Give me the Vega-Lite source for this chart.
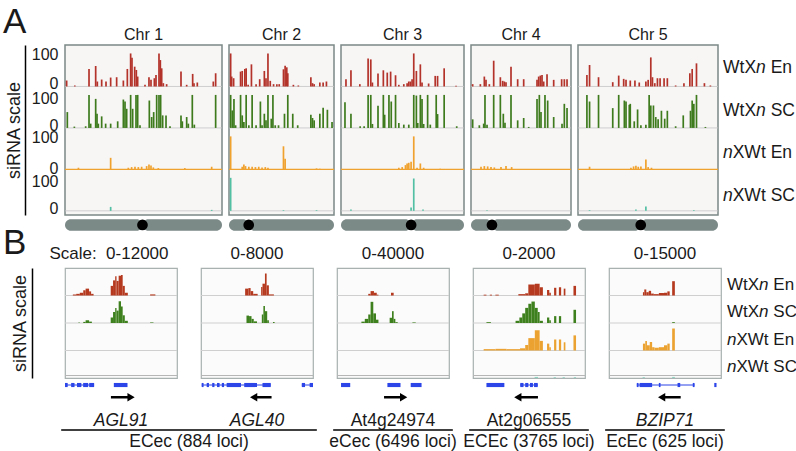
{
"$schema": "https://vega.github.io/schema/vega-lite/v6.json",
"padding": {"left": 3, "top": 5, "right": 0, "bottom": 0},
"config": {"font": "Liberation Sans", "view": {"stroke": null}, "title": {"fontSize": 16, "fontWeight": "normal", "color": "#1a1a1a", "offset": 2}, "text": {"color": "#1a1a1a"}},
"datasets": {
"tracks": [{"t":0,"k":"WtXn","s":"En"},{"t":1,"k":"WtXn","s":"SC"},{"t":2,"k":"nXWt","s":"En"},{"t":3,"k":"nXWt","s":"SC"}],
"chroms": [{"c":1,"len":30.4,"cen":15.0},{"c":2,"len":19.7,"cen":3.7},{"c":3,"len":23.5,"cen":13.4},{"c":4,"len":18.6,"cen":3.9},{"c":5,"len":27.0,"cen":12.1}],
"abars": [
{"c":1,"t":0,"x":[0.32,1.9,4.65,5.94,6.26,7.10,7.94,8.84,10.0,11.3,12.07,12.71,12.97,13.49,13.81,14.07,15.49,16.26,16.65,17.3,17.62,18.2,18.46,18.72,19.04,19.68,22.46,23.56,24.72,24.98,25.62,28.72,29.17],"v":[18,3,53,62,15,21,15,27,28,18,53,100,87,60,50,30,5,28,20,25,35,100,80,55,10,7,45,5,38,10,12,15,40]},
{"c":1,"t":1,"x":[0.45,1.81,4.0,4.65,4.97,5.94,6.2,6.45,7.1,7.87,8.84,10.2,11.3,11.62,11.94,12.71,13.1,13.75,14.07,14.52,16.33,16.78,17.17,17.75,18.2,18.52,18.91,19.56,20.33,22.46,22.72,23.56,23.88,24.65,25.04,29.17],"v":[48,4,5,100,13,88,43,13,35,13,13,20,86,80,58,100,58,100,100,8,83,33,48,100,100,100,38,38,5,38,20,33,13,100,10,100]},
{"c":1,"t":2,"x":[2.6,8.84,12.26,12.9,13.55,14.2,14.84,15.81,16.26,16.65,17.1,18.07,23.2,28.4],"v":[5,35,5,7,8,7,8,10,15,12,6,4,4,8]},
{"c":1,"t":3,"x":[8.84,28.4],"v":[12,3]},
{"c":2,"t":0,"x":[0.31,0.5,0.87,2.17,2.48,2.97,3.22,3.59,4.21,5.08,5.76,6.63,6.94,7.31,7.74,8.36,8.98,9.42,10.22,10.53,10.84,11.03,12.08,13.01,15.36,15.67,15.98,17.04,17.66,18.28],"v":[100,30,25,45,47,53,55,5,67,7,22,47,25,100,17,7,7,7,52,63,58,40,5,3,28,10,7,12,12,15]},
{"c":2,"t":1,"x":[0.31,0.62,0.93,1.24,2.17,2.48,2.79,3.22,3.72,4.34,5.08,5.89,6.2,6.63,6.94,7.31,7.93,8.24,8.67,9.29,10.41,11.03,11.96,12.89,15.36,15.67,15.98,17.04,17.66,18.46,19.33],"v":[100,53,88,8,100,38,18,100,8,100,8,80,8,43,23,100,28,100,8,8,43,100,43,8,40,30,23,43,61,55,18]},
{"c":2,"t":2,"x":[0.31,2.48,2.79,3.1,3.72,4.34,4.96,5.58,6.2,6.81,7.31,10.22,10.53,16.42,17.04],"v":[100,8,15,10,8,8,7,8,6,7,5,70,32,3,2]},
{"c":2,"t":3,"x":[0.31,10.22,16.42],"v":[100,2,2]},
{"c":3,"t":0,"x":[0.95,1.9,3.6,5.18,5.69,6.0,7.07,8.09,8.84,9.48,10.42,11.05,12.0,12.63,12.95,13.27,13.58,13.9,14.4,15.16,15.48,16.74,18.0,18.45,19.71,21.98],"v":[22,49,7,85,82,12,39,49,42,45,34,5,7,10,15,15,22,100,47,67,12,9,32,32,55,2]},
{"c":3,"t":1,"x":[0.76,1.9,3.66,4.42,5.18,5.69,6.0,7.07,8.09,8.34,9.16,9.6,10.42,11.05,12.0,12.95,13.9,14.4,14.66,15.16,15.48,15.79,16.55,17.06,18.19,18.45,19.71,22.11],"v":[78,43,5,5,100,100,12,67,100,40,100,80,100,15,10,10,100,98,15,100,88,12,100,10,100,42,100,5]},
{"c":3,"t":2,"x":[11.05,11.69,12.32,12.63,12.95,13.39,13.9,14.53,15.16,15.79,18.95],"v":[5,7,13,18,20,23,100,5,18,5,2]},
{"c":3,"t":3,"x":[1.9,13.39,13.9,15.67],"v":[4,10,98,4]},
{"c":4,"t":0,"x":[0.31,1.74,2.48,2.79,3.41,4.22,5.46,5.89,6.2,6.51,7.44,8.68,9.8,12.28,12.59,12.9,13.21,13.52,14.14,15.38,16.86,17.36,17.86],"v":[7,7,30,20,7,78,28,17,15,13,60,22,22,20,30,33,35,15,37,20,22,22,22]},
{"c":4,"t":1,"x":[0.31,1.55,2.36,2.6,2.98,4.22,5.46,6.01,6.32,7.44,8.68,9.8,10.73,12.28,12.71,13.02,13.76,14.26,15.38,16.93,17.36,17.86],"v":[26,8,13,100,10,100,100,43,16,100,23,30,3,88,100,48,100,83,33,13,73,60]},
{"c":4,"t":2,"x":[1.86,2.48,3.1,3.72,4.34,5.58,6.51,7.56],"v":[8,10,9,7,6,7,10,7]},
{"c":4,"t":3,"x":[2.98],"v":[2]},
{"c":5,"t":0,"x":[1.72,2.23,3.96,6.7,7.85,8.81,9.26,10.08,10.98,11.81,13.09,13.53,14.04,14.36,14.81,15.32,15.83,16.6,17.23,18.83,20.43,21.57,22.02,22.85,24.38,25.53],"v":[35,65,28,13,33,23,20,18,18,12,15,20,88,28,10,25,25,25,25,3,10,40,53,70,10,3]},
{"c":5,"t":1,"x":[1.72,2.23,3.96,6.7,7.85,8.94,9.26,9.89,10.08,10.85,11.49,12.13,13.09,13.72,14.04,14.55,15.0,15.45,16.09,16.72,17.23,18.83,20.3,21.7,22.02,22.34,22.85,24.57],"v":[100,80,100,60,100,83,80,70,73,20,56,8,10,100,68,68,33,26,52,28,52,5,38,52,83,73,100,3]},
{"c":5,"t":2,"x":[2.23,10.21,10.72,11.17,11.62,12.13,13.09,13.53,14.17],"v":[8,5,9,11,8,9,30,7,5]},
{"c":5,"t":3,"x":[2.23,11.17,13.09,22.34],"v":[2,4,13,2]}
],
"bhist": [
{"g":1,"t":0,"x0":[7,10,13.2,16.3,18.4,21.5,23.3,40.8,42.9,44.8,46,47.9,50,51.5,53.4,76],"x1":[10,13.2,16.3,18.4,21.5,23.3,25.5,42.9,44.8,46,47.9,50,51.5,53.4,56.1,80.7],"p":[4,6,10,19,25,15,6,35,55,70,53,72,75,35,10,4]},
{"g":1,"t":1,"x0":[12,16.3,18.4,21.5,40.8,42.9,44.8,46,47.9,50,51.5,53.4,76],"x1":[13.2,18.4,21.5,24,42.9,44.8,46,47.9,50,51.5,53.4,56.1,79],"p":[2,4,10,5,20,40,55,45,79,60,28,8,2]},
{"g":2,"t":0,"x0":[39.4,42.3,44.3,46.6,53.7,54.9,57.1,58.6,60.6],"x1":[42.3,44.3,46.6,50.6,54.9,57.1,58.6,60.6,65.1],"p":[25,27,16,6,31,43,80,37,4]},
{"g":2,"t":1,"x0":[40.6,42.9,45.1,47.1,54.3,55.7,57.1,59.1,64.3],"x1":[42.9,45.1,47.1,50,55.7,57.1,59.1,60.6,65.7],"p":[27,25,15,6,31,62,43,10,4]},
{"g":3,"t":0,"x0":[27.9,30,33,35.5,48.2],"x1":[30,33,35.5,37,50.6],"p":[6,16,10,3,10]},
{"g":3,"t":1,"x0":[21.8,24.8,27.9,30,32.4,34.8,47,49.1,50.6,52.1,67.3],"x1":[24.8,27.9,30,32.4,34.8,37,49.1,50.6,52.1,54.2,70.3],"p":[5,15,31,77,35,12,19,43,15,3,2]},
{"g":4,"t":0,"x0":[9.5,15,20,40.5,46.6,49.4,55.2,59.5,66.1,68.1,72.4,76.7,81,89.7],"x1":[12,17,23,46.6,49.4,55.2,59.5,62.4,68.1,69.5,74.4,78.7,82.5,92],"p":[3,3,3,5,8,40,43,30,20,10,28,30,25,35]},
{"g":4,"t":1,"x0":[12,38,41.4,44,46.6,49.4,52.2,55.2,57.8,59.5,66.1,68.1,72.4,76.7,89.7],"x1":[16,41.4,44,46.6,49.4,52.2,55.2,57.8,59.5,62.4,68.1,69.5,74.4,78.7,92],"p":[3,8,20,35,55,70,78,55,40,8,20,10,25,25,48]},
{"g":4,"t":2,"x0":[9.5,20,30,42,46.6,49.4,55.2,59.5,66.1,68.1,72.4,76.7,81,89.7],"x1":[20,30,42,46.6,49.4,55.2,59.5,62.4,68.1,69.5,74.4,78.7,82.5,92],"p":[5,6,5,8,20,45,74,35,25,12,40,40,30,55]},
{"g":4,"t":3,"x0":[55,72,80,90],"x1":[58,74,82,92],"p":[4,3,3,3]},
{"g":5,"t":0,"x0":[30.3,31.5,33.3,35.5,37.6,40,44.5,49.1,52.1,56.4],"x1":[31.5,33.3,35.5,37.6,40,44.5,49.1,52.1,54.2,58.8],"p":[12,22,12,17,7,5,9,10,15,52]},
{"g":5,"t":1,"x0":[56.4],"x1":[58.8],"p":[3]},
{"g":5,"t":2,"x0":[30.3,32.4,33.9,36.4,38.5,40.6,44.5,49.1,52.1,56.4],"x1":[32.4,33.9,36.4,38.5,40.6,44.5,49.1,52.1,54.2,58.8],"p":[25,35,19,31,12,10,12,19,25,80]},
{"g":5,"t":3,"x0":[30,56.4],"x1":[32,58.8],"p":[3,4]}
],
"bexon": [
{"g":1,"s":[0,5.5,10.7,16.2,21.6,43.6],"e":[2.4,8.5,14.6,20.7,26,55.8]},
{"g":2,"s":[0.6,5.1,10,14.3,18.6,22.9,38.6,54.9,90,97],"e":[2.3,7.1,12,16.6,20.6,35.7,50,62.3,92.9,100]},
{"g":3,"s":[3.6,45,65.8],"e":[11.8,56.7,75.5]},
{"g":4,"s":[12,42.2,46.6,50.9,54.5],"e":[28,45.1,49.4,53.5,57.8]},
{"g":5,"s":[24.8,27.3,44.5,61.2,74.8,94],"e":[26.4,38.5,46,63.6,76.4,96]}
],
"bintron": [
{"g":1,"s":[0.9],"e":[26]},
{"g":2,"s":[0.6,90],"e":[62.3,100]},
{"g":4,"s":[42],"e":[58]},
{"g":5,"s":[24.8],"e":[76.4]}
],
"barrow": [{"g":1,"s":41,"e":59,"d":"r"},{"g":2,"s":47,"e":63,"d":"l"},{"g":3,"s":42,"e":59.5,"d":"r"},{"g":4,"s":40,"e":58,"d":"l"},{"g":5,"s":47,"e":64,"d":"l"}],
"genes": [{"g":1,"n":"AGL91"},{"g":2,"n":"AGL40"},{"g":3,"n":"At4g24974"},{"g":4,"n":"At2g06555"},{"g":5,"n":"BZIP71"}],
"groups": [{"n":"ECec (884 loci)","a":1,"b":2},{"n":"eCec (6496 loci)","a":3,"b":3},{"n":"ECEc (3765 loci)","a":4,"b":4},{"n":"EcEc (625 loci)","a":5,"b":5}]
},
"resolve": {"scale": {"color": "independent"}},
"spacing": -6,
"bounds": "full",
"vconcat": [
{
"title": {"text": "A", "anchor": "start", "frame": "group", "fontSize": 35, "fontWeight": "normal", "dx": -62, "dy": 22, "offset": 8},
"spacing": 7,
"bounds": "flush",
"hconcat": [
{"width": 157, "height": 170, "title": {"text": "Chr 1"},
"view": {"fill": "#f8f5f5", "stroke": "#7b8886", "strokeWidth": 1.5},
"layer": [
{"data": {"name": "tracks"}, "transform": [{"filter": "datum.t != 2"}, {"calculate": "3 - datum.t", "as": "b"}],
"mark": {"type": "rule", "color": "#c4c4c4", "strokeWidth": 0.8},
"encoding": {"y": {"field": "b", "type": "quantitative", "scale": {"domain": [-0.1, 4]},
"axis": {"title": "siRNA scale", "offset": 40, "domainColor": "black", "domainWidth": 1.5, "ticks": false, "tickSize": 0, "grid": false, "values": [0.045, 0.72, 1.03, 1.76, 2.05, 2.7, 3.06, 3.78], "labelExpr": "datum.value % 1 > 0.5 ? '100' : '0'", "labelAlign": "right", "labelPadding": -33, "labelFontSize": 16, "labelColor": "#1a1a1a", "labelOverlap": false, "labelFlush": false, "titleFontSize": 18, "titleFontWeight": "normal", "titleColor": "#1a1a1a", "titlePadding": 2}}}},
{"data": {"name": "tracks"}, "transform": [{"filter": "datum.t == 2"}, {"calculate": "3 - datum.t", "as": "b"}],
"mark": {"type": "rule", "color": "#f0a22e", "strokeWidth": 1.3},
"encoding": {"y": {"field": "b", "type": "quantitative", "scale": {"domain": [-0.1, 4]},
"axis": {"title": "siRNA scale", "offset": 40, "domainColor": "black", "domainWidth": 1.5, "ticks": false, "tickSize": 0, "grid": false, "values": [0.045, 0.72, 1.03, 1.76, 2.05, 2.7, 3.06, 3.78], "labelExpr": "datum.value % 1 > 0.5 ? '100' : '0'", "labelAlign": "right", "labelPadding": -33, "labelFontSize": 16, "labelColor": "#1a1a1a", "labelOverlap": false, "labelFlush": false, "titleFontSize": 18, "titleFontWeight": "normal", "titleColor": "#1a1a1a", "titlePadding": 2}}}},
{"data": {"name": "abars"}, "transform": [{"filter": "datum.c == 1"}, {"flatten": ["x", "v"]}, {"calculate": "3 - datum.t", "as": "b"}, {"calculate": "3 - datum.t + datum.v / 125.6", "as": "top"}],
"mark": {"type": "rule", "strokeWidth": 1.7},
"encoding": {"x": {"field": "x", "type": "quantitative", "scale": {"domain": [0, 30.4]}, "axis": null},
"y": {"field": "b", "type": "quantitative", "scale": {"domain": [-0.1, 4]},
"axis": {"title": "siRNA scale", "offset": 40, "domainColor": "black", "domainWidth": 1.5, "ticks": false, "tickSize": 0, "grid": false, "values": [0.045, 0.72, 1.03, 1.76, 2.05, 2.7, 3.06, 3.78], "labelExpr": "datum.value % 1 > 0.5 ? '100' : '0'", "labelAlign": "right", "labelPadding": -33, "labelFontSize": 16, "labelColor": "#1a1a1a", "labelOverlap": false, "labelFlush": false, "titleFontSize": 18, "titleFontWeight": "normal", "titleColor": "#1a1a1a", "titlePadding": 2}}, "y2": {"field": "top"},
"color": {"field": "t", "type": "nominal", "scale": {"domain": [0,1,2,3], "range": ["#b3332a","#3d7b1d","#f0a22e","#52c0a2"]}, "legend": null}}},
{"data": {"name": "chroms"}, "transform": [{"filter": "datum.c == 1"}, {"calculate": "0", "as": "z"}, {"calculate": "-0.2", "as": "ya"}, {"calculate": "-0.48", "as": "yb"}],
"mark": {"type": "rect", "color": "#7b8987", "cornerRadius": 6},
"encoding": {"x": {"field": "z", "type": "quantitative", "scale": {"domain": [0, 30.4]}, "axis": null}, "x2": {"field": "cen"},
"y": {"field": "ya", "type": "quantitative", "scale": {"domain": [-0.1, 4]},
"axis": {"title": "siRNA scale", "offset": 40, "domainColor": "black", "domainWidth": 1.5, "ticks": false, "tickSize": 0, "grid": false, "values": [0.045, 0.72, 1.03, 1.76, 2.05, 2.7, 3.06, 3.78], "labelExpr": "datum.value % 1 > 0.5 ? '100' : '0'", "labelAlign": "right", "labelPadding": -33, "labelFontSize": 16, "labelColor": "#1a1a1a", "labelOverlap": false, "labelFlush": false, "titleFontSize": 18, "titleFontWeight": "normal", "titleColor": "#1a1a1a", "titlePadding": 2}}, "y2": {"field": "yb"}}},
{"data": {"name": "chroms"}, "transform": [{"filter": "datum.c == 1"}, {"calculate": "-0.2", "as": "ya"}, {"calculate": "-0.48", "as": "yb"}],
"mark": {"type": "rect", "color": "#7b8987", "cornerRadius": 6},
"encoding": {"x": {"field": "cen", "type": "quantitative", "scale": {"domain": [0, 30.4]}, "axis": null}, "x2": {"field": "len"},
"y": {"field": "ya", "type": "quantitative", "scale": {"domain": [-0.1, 4]},
"axis": {"title": "siRNA scale", "offset": 40, "domainColor": "black", "domainWidth": 1.5, "ticks": false, "tickSize": 0, "grid": false, "values": [0.045, 0.72, 1.03, 1.76, 2.05, 2.7, 3.06, 3.78], "labelExpr": "datum.value % 1 > 0.5 ? '100' : '0'", "labelAlign": "right", "labelPadding": -33, "labelFontSize": 16, "labelColor": "#1a1a1a", "labelOverlap": false, "labelFlush": false, "titleFontSize": 18, "titleFontWeight": "normal", "titleColor": "#1a1a1a", "titlePadding": 2}}, "y2": {"field": "yb"}}},
{"data": {"name": "chroms"}, "transform": [{"filter": "datum.c == 1"}, {"calculate": "-0.34", "as": "yc"}],
"mark": {"type": "point", "filled": true, "color": "black", "size": 115, "opacity": 1},
"encoding": {"x": {"field": "cen", "type": "quantitative", "scale": {"domain": [0, 30.4]}, "axis": null},
"y": {"field": "yc", "type": "quantitative", "scale": {"domain": [-0.1, 4]},
"axis": {"title": "siRNA scale", "offset": 40, "domainColor": "black", "domainWidth": 1.5, "ticks": false, "tickSize": 0, "grid": false, "values": [0.045, 0.72, 1.03, 1.76, 2.05, 2.7, 3.06, 3.78], "labelExpr": "datum.value % 1 > 0.5 ? '100' : '0'", "labelAlign": "right", "labelPadding": -33, "labelFontSize": 16, "labelColor": "#1a1a1a", "labelOverlap": false, "labelFlush": false, "titleFontSize": 18, "titleFontWeight": "normal", "titleColor": "#1a1a1a", "titlePadding": 2}}}}
]},
{"width": 105, "height": 170, "title": {"text": "Chr 2"},
"view": {"fill": "#f8f5f5", "stroke": "#7b8886", "strokeWidth": 1.5},
"layer": [
{"data": {"name": "tracks"}, "transform": [{"filter": "datum.t != 2"}, {"calculate": "3 - datum.t", "as": "b"}],
"mark": {"type": "rule", "color": "#c4c4c4", "strokeWidth": 0.8},
"encoding": {"y": {"field": "b", "type": "quantitative", "scale": {"domain": [-0.1, 4]}, "axis": null}}},
{"data": {"name": "tracks"}, "transform": [{"filter": "datum.t == 2"}, {"calculate": "3 - datum.t", "as": "b"}],
"mark": {"type": "rule", "color": "#f0a22e", "strokeWidth": 1.3},
"encoding": {"y": {"field": "b", "type": "quantitative", "scale": {"domain": [-0.1, 4]}, "axis": null}}},
{"data": {"name": "abars"}, "transform": [{"filter": "datum.c == 2"}, {"flatten": ["x", "v"]}, {"calculate": "3 - datum.t", "as": "b"}, {"calculate": "3 - datum.t + datum.v / 125.6", "as": "top"}],
"mark": {"type": "rule", "strokeWidth": 1.7},
"encoding": {"x": {"field": "x", "type": "quantitative", "scale": {"domain": [0, 19.7]}, "axis": null},
"y": {"field": "b", "type": "quantitative", "scale": {"domain": [-0.1, 4]}, "axis": null}, "y2": {"field": "top"},
"color": {"field": "t", "type": "nominal", "scale": {"domain": [0,1,2,3], "range": ["#b3332a","#3d7b1d","#f0a22e","#52c0a2"]}, "legend": null}}},
{"data": {"name": "chroms"}, "transform": [{"filter": "datum.c == 2"}, {"calculate": "0", "as": "z"}, {"calculate": "-0.2", "as": "ya"}, {"calculate": "-0.48", "as": "yb"}],
"mark": {"type": "rect", "color": "#7b8987", "cornerRadius": 6},
"encoding": {"x": {"field": "z", "type": "quantitative", "scale": {"domain": [0, 19.7]}, "axis": null}, "x2": {"field": "cen"},
"y": {"field": "ya", "type": "quantitative", "scale": {"domain": [-0.1, 4]}, "axis": null}, "y2": {"field": "yb"}}},
{"data": {"name": "chroms"}, "transform": [{"filter": "datum.c == 2"}, {"calculate": "-0.2", "as": "ya"}, {"calculate": "-0.48", "as": "yb"}],
"mark": {"type": "rect", "color": "#7b8987", "cornerRadius": 6},
"encoding": {"x": {"field": "cen", "type": "quantitative", "scale": {"domain": [0, 19.7]}, "axis": null}, "x2": {"field": "len"},
"y": {"field": "ya", "type": "quantitative", "scale": {"domain": [-0.1, 4]}, "axis": null}, "y2": {"field": "yb"}}},
{"data": {"name": "chroms"}, "transform": [{"filter": "datum.c == 2"}, {"calculate": "-0.34", "as": "yc"}],
"mark": {"type": "point", "filled": true, "color": "black", "size": 115, "opacity": 1},
"encoding": {"x": {"field": "cen", "type": "quantitative", "scale": {"domain": [0, 19.7]}, "axis": null},
"y": {"field": "yc", "type": "quantitative", "scale": {"domain": [-0.1, 4]}, "axis": null}}}
]},
{"width": 123, "height": 170, "title": {"text": "Chr 3"},
"view": {"fill": "#f8f5f5", "stroke": "#7b8886", "strokeWidth": 1.5},
"layer": [
{"data": {"name": "tracks"}, "transform": [{"filter": "datum.t != 2"}, {"calculate": "3 - datum.t", "as": "b"}],
"mark": {"type": "rule", "color": "#c4c4c4", "strokeWidth": 0.8},
"encoding": {"y": {"field": "b", "type": "quantitative", "scale": {"domain": [-0.1, 4]}, "axis": null}}},
{"data": {"name": "tracks"}, "transform": [{"filter": "datum.t == 2"}, {"calculate": "3 - datum.t", "as": "b"}],
"mark": {"type": "rule", "color": "#f0a22e", "strokeWidth": 1.3},
"encoding": {"y": {"field": "b", "type": "quantitative", "scale": {"domain": [-0.1, 4]}, "axis": null}}},
{"data": {"name": "abars"}, "transform": [{"filter": "datum.c == 3"}, {"flatten": ["x", "v"]}, {"calculate": "3 - datum.t", "as": "b"}, {"calculate": "3 - datum.t + datum.v / 125.6", "as": "top"}],
"mark": {"type": "rule", "strokeWidth": 1.7},
"encoding": {"x": {"field": "x", "type": "quantitative", "scale": {"domain": [0, 23.5]}, "axis": null},
"y": {"field": "b", "type": "quantitative", "scale": {"domain": [-0.1, 4]}, "axis": null}, "y2": {"field": "top"},
"color": {"field": "t", "type": "nominal", "scale": {"domain": [0,1,2,3], "range": ["#b3332a","#3d7b1d","#f0a22e","#52c0a2"]}, "legend": null}}},
{"data": {"name": "chroms"}, "transform": [{"filter": "datum.c == 3"}, {"calculate": "0", "as": "z"}, {"calculate": "-0.2", "as": "ya"}, {"calculate": "-0.48", "as": "yb"}],
"mark": {"type": "rect", "color": "#7b8987", "cornerRadius": 6},
"encoding": {"x": {"field": "z", "type": "quantitative", "scale": {"domain": [0, 23.5]}, "axis": null}, "x2": {"field": "cen"},
"y": {"field": "ya", "type": "quantitative", "scale": {"domain": [-0.1, 4]}, "axis": null}, "y2": {"field": "yb"}}},
{"data": {"name": "chroms"}, "transform": [{"filter": "datum.c == 3"}, {"calculate": "-0.2", "as": "ya"}, {"calculate": "-0.48", "as": "yb"}],
"mark": {"type": "rect", "color": "#7b8987", "cornerRadius": 6},
"encoding": {"x": {"field": "cen", "type": "quantitative", "scale": {"domain": [0, 23.5]}, "axis": null}, "x2": {"field": "len"},
"y": {"field": "ya", "type": "quantitative", "scale": {"domain": [-0.1, 4]}, "axis": null}, "y2": {"field": "yb"}}},
{"data": {"name": "chroms"}, "transform": [{"filter": "datum.c == 3"}, {"calculate": "-0.34", "as": "yc"}],
"mark": {"type": "point", "filled": true, "color": "black", "size": 115, "opacity": 1},
"encoding": {"x": {"field": "cen", "type": "quantitative", "scale": {"domain": [0, 23.5]}, "axis": null},
"y": {"field": "yc", "type": "quantitative", "scale": {"domain": [-0.1, 4]}, "axis": null}}}
]},
{"width": 100, "height": 170, "title": {"text": "Chr 4"},
"view": {"fill": "#f8f5f5", "stroke": "#7b8886", "strokeWidth": 1.5},
"layer": [
{"data": {"name": "tracks"}, "transform": [{"filter": "datum.t != 2"}, {"calculate": "3 - datum.t", "as": "b"}],
"mark": {"type": "rule", "color": "#c4c4c4", "strokeWidth": 0.8},
"encoding": {"y": {"field": "b", "type": "quantitative", "scale": {"domain": [-0.1, 4]}, "axis": null}}},
{"data": {"name": "tracks"}, "transform": [{"filter": "datum.t == 2"}, {"calculate": "3 - datum.t", "as": "b"}],
"mark": {"type": "rule", "color": "#f0a22e", "strokeWidth": 1.3},
"encoding": {"y": {"field": "b", "type": "quantitative", "scale": {"domain": [-0.1, 4]}, "axis": null}}},
{"data": {"name": "abars"}, "transform": [{"filter": "datum.c == 4"}, {"flatten": ["x", "v"]}, {"calculate": "3 - datum.t", "as": "b"}, {"calculate": "3 - datum.t + datum.v / 125.6", "as": "top"}],
"mark": {"type": "rule", "strokeWidth": 1.7},
"encoding": {"x": {"field": "x", "type": "quantitative", "scale": {"domain": [0, 18.6]}, "axis": null},
"y": {"field": "b", "type": "quantitative", "scale": {"domain": [-0.1, 4]}, "axis": null}, "y2": {"field": "top"},
"color": {"field": "t", "type": "nominal", "scale": {"domain": [0,1,2,3], "range": ["#b3332a","#3d7b1d","#f0a22e","#52c0a2"]}, "legend": null}}},
{"data": {"name": "chroms"}, "transform": [{"filter": "datum.c == 4"}, {"calculate": "0", "as": "z"}, {"calculate": "-0.2", "as": "ya"}, {"calculate": "-0.48", "as": "yb"}],
"mark": {"type": "rect", "color": "#7b8987", "cornerRadius": 6},
"encoding": {"x": {"field": "z", "type": "quantitative", "scale": {"domain": [0, 18.6]}, "axis": null}, "x2": {"field": "cen"},
"y": {"field": "ya", "type": "quantitative", "scale": {"domain": [-0.1, 4]}, "axis": null}, "y2": {"field": "yb"}}},
{"data": {"name": "chroms"}, "transform": [{"filter": "datum.c == 4"}, {"calculate": "-0.2", "as": "ya"}, {"calculate": "-0.48", "as": "yb"}],
"mark": {"type": "rect", "color": "#7b8987", "cornerRadius": 6},
"encoding": {"x": {"field": "cen", "type": "quantitative", "scale": {"domain": [0, 18.6]}, "axis": null}, "x2": {"field": "len"},
"y": {"field": "ya", "type": "quantitative", "scale": {"domain": [-0.1, 4]}, "axis": null}, "y2": {"field": "yb"}}},
{"data": {"name": "chroms"}, "transform": [{"filter": "datum.c == 4"}, {"calculate": "-0.34", "as": "yc"}],
"mark": {"type": "point", "filled": true, "color": "black", "size": 115, "opacity": 1},
"encoding": {"x": {"field": "cen", "type": "quantitative", "scale": {"domain": [0, 18.6]}, "axis": null},
"y": {"field": "yc", "type": "quantitative", "scale": {"domain": [-0.1, 4]}, "axis": null}}}
]},
{"width": 140, "height": 170, "title": {"text": "Chr 5"},
"view": {"fill": "#f8f5f5", "stroke": "#7b8886", "strokeWidth": 1.5},
"layer": [
{"data": {"name": "tracks"}, "transform": [{"filter": "datum.t != 2"}, {"calculate": "3 - datum.t", "as": "b"}],
"mark": {"type": "rule", "color": "#c4c4c4", "strokeWidth": 0.8},
"encoding": {"y": {"field": "b", "type": "quantitative", "scale": {"domain": [-0.1, 4]}, "axis": null}}},
{"data": {"name": "tracks"}, "transform": [{"filter": "datum.t == 2"}, {"calculate": "3 - datum.t", "as": "b"}],
"mark": {"type": "rule", "color": "#f0a22e", "strokeWidth": 1.3},
"encoding": {"y": {"field": "b", "type": "quantitative", "scale": {"domain": [-0.1, 4]}, "axis": null}}},
{"data": {"name": "abars"}, "transform": [{"filter": "datum.c == 5"}, {"flatten": ["x", "v"]}, {"calculate": "3 - datum.t", "as": "b"}, {"calculate": "3 - datum.t + datum.v / 125.6", "as": "top"}],
"mark": {"type": "rule", "strokeWidth": 1.7},
"encoding": {"x": {"field": "x", "type": "quantitative", "scale": {"domain": [0, 27.0]}, "axis": null},
"y": {"field": "b", "type": "quantitative", "scale": {"domain": [-0.1, 4]}, "axis": null}, "y2": {"field": "top"},
"color": {"field": "t", "type": "nominal", "scale": {"domain": [0,1,2,3], "range": ["#b3332a","#3d7b1d","#f0a22e","#52c0a2"]}, "legend": null}}},
{"data": {"name": "chroms"}, "transform": [{"filter": "datum.c == 5"}, {"calculate": "0", "as": "z"}, {"calculate": "-0.2", "as": "ya"}, {"calculate": "-0.48", "as": "yb"}],
"mark": {"type": "rect", "color": "#7b8987", "cornerRadius": 6},
"encoding": {"x": {"field": "z", "type": "quantitative", "scale": {"domain": [0, 27.0]}, "axis": null}, "x2": {"field": "cen"},
"y": {"field": "ya", "type": "quantitative", "scale": {"domain": [-0.1, 4]}, "axis": null}, "y2": {"field": "yb"}}},
{"data": {"name": "chroms"}, "transform": [{"filter": "datum.c == 5"}, {"calculate": "-0.2", "as": "ya"}, {"calculate": "-0.48", "as": "yb"}],
"mark": {"type": "rect", "color": "#7b8987", "cornerRadius": 6},
"encoding": {"x": {"field": "cen", "type": "quantitative", "scale": {"domain": [0, 27.0]}, "axis": null}, "x2": {"field": "len"},
"y": {"field": "ya", "type": "quantitative", "scale": {"domain": [-0.1, 4]}, "axis": null}, "y2": {"field": "yb"}}},
{"data": {"name": "chroms"}, "transform": [{"filter": "datum.c == 5"}, {"calculate": "-0.34", "as": "yc"}],
"mark": {"type": "point", "filled": true, "color": "black", "size": 115, "opacity": 1},
"encoding": {"x": {"field": "cen", "type": "quantitative", "scale": {"domain": [0, 27.0]}, "axis": null},
"y": {"field": "yc", "type": "quantitative", "scale": {"domain": [-0.1, 4]}, "axis": null}}}
]},
{"width": 70, "height": 170,
"data": {"name": "tracks"},
"layer": [
{"transform": [{"filter": "datum.k == 'WtXn'"}], "mark": {"type": "text", "align": "left", "fontSize": 17.5, "dx": -2, "dy": 2, "text": "WtX"},
"encoding": {"x": {"datum": 0, "type": "quantitative", "scale": {"domain": [0, 1]}, "axis": null}, "y": {"field": "t", "type": "ordinal", "axis": null}}},
{"transform": [{"filter": "datum.k == 'WtXn'"}], "mark": {"type": "text", "align": "left", "fontSize": 17.5, "fontStyle": "italic", "dx": 31.1, "dy": 2, "text": "n"},
"encoding": {"x": {"datum": 0, "type": "quantitative", "scale": {"domain": [0, 1]}, "axis": null}, "y": {"field": "t", "type": "ordinal", "axis": null}}},
{"transform": [{"filter": "datum.k == 'nXWt'"}], "mark": {"type": "text", "align": "left", "fontSize": 17.5, "fontStyle": "italic", "dx": -2, "dy": 2, "text": "n"},
"encoding": {"x": {"datum": 0, "type": "quantitative", "scale": {"domain": [0, 1]}, "axis": null}, "y": {"field": "t", "type": "ordinal", "axis": null}}},
{"transform": [{"filter": "datum.k == 'nXWt'"}], "mark": {"type": "text", "align": "left", "fontSize": 17.5, "dx": 7.7, "dy": 2, "text": "XWt"},
"encoding": {"x": {"datum": 0, "type": "quantitative", "scale": {"domain": [0, 1]}, "axis": null}, "y": {"field": "t", "type": "ordinal", "axis": null}}},
{"mark": {"type": "text", "align": "left", "fontSize": 17.5, "dx": 45.7, "dy": 2},
"encoding": {"x": {"datum": 0, "type": "quantitative", "scale": {"domain": [0, 1]}, "axis": null}, "y": {"field": "t", "type": "ordinal", "axis": null}, "text": {"field": "s"}}}
]}
]
},
{
"title": {"text": "B", "anchor": "start", "frame": "group", "fontSize": 35, "fontWeight": "normal", "dx": -62, "dy": 17, "offset": 0},
"spacing": 9,
"bounds": "full",
"vconcat": [
{"spacing": 24, "bounds": "flush",
"hconcat": [
{"width": 112, "height": 110, "title": {"text": "Scale:\u00a0 0-12000", "anchor": "end", "dx": -9, "fontSize": 17, "offset": 5},
"view": {"fill": "#fbfbfb", "stroke": "#a8b0b0", "strokeWidth": 1.2},
"layer": [
{"data": {"name": "tracks"}, "transform": [{"filter": "datum.t > 0"}], "mark": {"type": "rule", "color": "#cfcfcf", "strokeWidth": 1},
"encoding": {"y": {"field": "t", "type": "quantitative", "scale": {"domain": [0, 4]}, "axis": {"title": "siRNA scale", "offset": 33, "domainColor": "black", "domainWidth": 1.5, "ticks": false, "labels": false, "grid": false, "titleFontSize": 18, "titleFontWeight": "normal", "titleColor": "#1a1a1a", "titlePadding": 3}}}},
{"data": {"name": "tracks"}, "transform": [{"filter": "datum.t == 0"}, {"calculate": "0.09", "as": "yl"}], "mark": {"type": "rule", "color": "#b5b5b5", "strokeWidth": 1}, "encoding": {"y": {"field": "yl", "type": "quantitative", "scale": {"domain": [0, 4]}, "axis": {"title": "siRNA scale", "offset": 33, "domainColor": "black", "domainWidth": 1.5, "ticks": false, "labels": false, "grid": false, "titleFontSize": 18, "titleFontWeight": "normal", "titleColor": "#1a1a1a", "titlePadding": 3}}}},
{"data": {"name": "bhist"}, "transform": [{"filter": "datum.g == 1"}, {"flatten": ["x0", "x1", "p"]}, {"calculate": "3 - datum.t", "as": "b"}, {"calculate": "3 - datum.t + datum.p / 100", "as": "top"}],
"mark": {"type": "rect"},
"encoding": {"x": {"field": "x0", "type": "quantitative", "scale": {"domain": [0, 100]}, "axis": null}, "x2": {"field": "x1"},
"y": {"field": "b", "type": "quantitative", "scale": {"domain": [0, 4]}, "axis": {"title": "siRNA scale", "offset": 33, "domainColor": "black", "domainWidth": 1.5, "ticks": false, "labels": false, "grid": false, "titleFontSize": 18, "titleFontWeight": "normal", "titleColor": "#1a1a1a", "titlePadding": 3}}, "y2": {"field": "top"},
"color": {"field": "t", "type": "nominal", "scale": {"domain": [0,1,2,3], "range": ["#b5391e","#3e801d","#eba231","#8ed3c2"]}, "legend": null}}},
{"data": {"name": "bintron"}, "transform": [{"filter": "datum.g == 1"}, {"flatten": ["s", "e"]}, {"calculate": "-0.255", "as": "yi"}], "mark": {"type": "rule", "color": "#2b45e8", "strokeWidth": 1},
"encoding": {"x": {"field": "s", "type": "quantitative", "scale": {"domain": [0, 100]}, "axis": null}, "x2": {"field": "e"}, "y": {"field": "yi", "type": "quantitative", "scale": {"domain": [0, 4]}, "axis": {"title": "siRNA scale", "offset": 33, "domainColor": "black", "domainWidth": 1.5, "ticks": false, "labels": false, "grid": false, "titleFontSize": 18, "titleFontWeight": "normal", "titleColor": "#1a1a1a", "titlePadding": 3}}}},
{"data": {"name": "bexon"}, "transform": [{"filter": "datum.g == 1"}, {"flatten": ["s", "e"]}, {"calculate": "-0.18", "as": "ya"}, {"calculate": "-0.33", "as": "yb"}], "mark": {"type": "rect", "color": "#2b45e8"},
"encoding": {"x": {"field": "s", "type": "quantitative", "scale": {"domain": [0, 100]}, "axis": null}, "x2": {"field": "e"}, "y": {"field": "ya", "type": "quantitative", "scale": {"domain": [0, 4]}, "axis": {"title": "siRNA scale", "offset": 33, "domainColor": "black", "domainWidth": 1.5, "ticks": false, "labels": false, "grid": false, "titleFontSize": 18, "titleFontWeight": "normal", "titleColor": "#1a1a1a", "titlePadding": 3}}, "y2": {"field": "yb"}}},
{"data": {"name": "barrow"}, "transform": [{"filter": "datum.g == 1"}, {"calculate": "-0.7", "as": "ya"}], "mark": {"type": "rule", "color": "black", "strokeWidth": 2.5},
"encoding": {"x": {"field": "s", "type": "quantitative", "scale": {"domain": [0, 100]}, "axis": null}, "x2": {"field": "e"}, "y": {"field": "ya", "type": "quantitative", "scale": {"domain": [0, 4]}, "axis": {"title": "siRNA scale", "offset": 33, "domainColor": "black", "domainWidth": 1.5, "ticks": false, "labels": false, "grid": false, "titleFontSize": 18, "titleFontWeight": "normal", "titleColor": "#1a1a1a", "titlePadding": 3}}}},
{"data": {"name": "barrow"}, "transform": [{"filter": "datum.g == 1"}, {"calculate": "datum.d == 'r' ? datum.e : datum.s", "as": "tip"}, {"calculate": "-0.7", "as": "ya"}], "mark": {"type": "point", "filled": true, "color": "black", "size": 70, "opacity": 1},
"encoding": {"x": {"field": "tip", "type": "quantitative", "scale": {"domain": [0, 100]}, "axis": null}, "y": {"field": "ya", "type": "quantitative", "scale": {"domain": [0, 4]}, "axis": {"title": "siRNA scale", "offset": 33, "domainColor": "black", "domainWidth": 1.5, "ticks": false, "labels": false, "grid": false, "titleFontSize": 18, "titleFontWeight": "normal", "titleColor": "#1a1a1a", "titlePadding": 3}},
"shape": {"field": "d", "type": "nominal", "scale": {"domain": ["r", "l"], "range": ["triangle-right", "triangle-left"]}, "legend": null}}}
]},
{"width": 112, "height": 110, "title": {"text": "0-8000", "fontSize": 17, "offset": 5},
"view": {"fill": "#fbfbfb", "stroke": "#a8b0b0", "strokeWidth": 1.2},
"layer": [
{"data": {"name": "tracks"}, "transform": [{"filter": "datum.t > 0"}], "mark": {"type": "rule", "color": "#cfcfcf", "strokeWidth": 1},
"encoding": {"y": {"field": "t", "type": "quantitative", "scale": {"domain": [0, 4]}, "axis": null}}},
{"data": {"name": "tracks"}, "transform": [{"filter": "datum.t == 0"}, {"calculate": "0.09", "as": "yl"}], "mark": {"type": "rule", "color": "#b5b5b5", "strokeWidth": 1}, "encoding": {"y": {"field": "yl", "type": "quantitative", "scale": {"domain": [0, 4]}, "axis": null}}},
{"data": {"name": "bhist"}, "transform": [{"filter": "datum.g == 2"}, {"flatten": ["x0", "x1", "p"]}, {"calculate": "3 - datum.t", "as": "b"}, {"calculate": "3 - datum.t + datum.p / 100", "as": "top"}],
"mark": {"type": "rect"},
"encoding": {"x": {"field": "x0", "type": "quantitative", "scale": {"domain": [0, 100]}, "axis": null}, "x2": {"field": "x1"},
"y": {"field": "b", "type": "quantitative", "scale": {"domain": [0, 4]}, "axis": null}, "y2": {"field": "top"},
"color": {"field": "t", "type": "nominal", "scale": {"domain": [0,1,2,3], "range": ["#b5391e","#3e801d","#eba231","#8ed3c2"]}, "legend": null}}},
{"data": {"name": "bintron"}, "transform": [{"filter": "datum.g == 2"}, {"flatten": ["s", "e"]}, {"calculate": "-0.255", "as": "yi"}], "mark": {"type": "rule", "color": "#2b45e8", "strokeWidth": 1},
"encoding": {"x": {"field": "s", "type": "quantitative", "scale": {"domain": [0, 100]}, "axis": null}, "x2": {"field": "e"}, "y": {"field": "yi", "type": "quantitative", "scale": {"domain": [0, 4]}, "axis": null}}},
{"data": {"name": "bexon"}, "transform": [{"filter": "datum.g == 2"}, {"flatten": ["s", "e"]}, {"calculate": "-0.18", "as": "ya"}, {"calculate": "-0.33", "as": "yb"}], "mark": {"type": "rect", "color": "#2b45e8"},
"encoding": {"x": {"field": "s", "type": "quantitative", "scale": {"domain": [0, 100]}, "axis": null}, "x2": {"field": "e"}, "y": {"field": "ya", "type": "quantitative", "scale": {"domain": [0, 4]}, "axis": null}, "y2": {"field": "yb"}}},
{"data": {"name": "barrow"}, "transform": [{"filter": "datum.g == 2"}, {"calculate": "-0.7", "as": "ya"}], "mark": {"type": "rule", "color": "black", "strokeWidth": 2.5},
"encoding": {"x": {"field": "s", "type": "quantitative", "scale": {"domain": [0, 100]}, "axis": null}, "x2": {"field": "e"}, "y": {"field": "ya", "type": "quantitative", "scale": {"domain": [0, 4]}, "axis": null}}},
{"data": {"name": "barrow"}, "transform": [{"filter": "datum.g == 2"}, {"calculate": "datum.d == 'r' ? datum.e : datum.s", "as": "tip"}, {"calculate": "-0.7", "as": "ya"}], "mark": {"type": "point", "filled": true, "color": "black", "size": 70, "opacity": 1},
"encoding": {"x": {"field": "tip", "type": "quantitative", "scale": {"domain": [0, 100]}, "axis": null}, "y": {"field": "ya", "type": "quantitative", "scale": {"domain": [0, 4]}, "axis": null},
"shape": {"field": "d", "type": "nominal", "scale": {"domain": ["r", "l"], "range": ["triangle-right", "triangle-left"]}, "legend": null}}}
]},
{"width": 112, "height": 110, "title": {"text": "0-40000", "fontSize": 17, "offset": 5},
"view": {"fill": "#fbfbfb", "stroke": "#a8b0b0", "strokeWidth": 1.2},
"layer": [
{"data": {"name": "tracks"}, "transform": [{"filter": "datum.t > 0"}], "mark": {"type": "rule", "color": "#cfcfcf", "strokeWidth": 1},
"encoding": {"y": {"field": "t", "type": "quantitative", "scale": {"domain": [0, 4]}, "axis": null}}},
{"data": {"name": "tracks"}, "transform": [{"filter": "datum.t == 0"}, {"calculate": "0.09", "as": "yl"}], "mark": {"type": "rule", "color": "#b5b5b5", "strokeWidth": 1}, "encoding": {"y": {"field": "yl", "type": "quantitative", "scale": {"domain": [0, 4]}, "axis": null}}},
{"data": {"name": "bhist"}, "transform": [{"filter": "datum.g == 3"}, {"flatten": ["x0", "x1", "p"]}, {"calculate": "3 - datum.t", "as": "b"}, {"calculate": "3 - datum.t + datum.p / 100", "as": "top"}],
"mark": {"type": "rect"},
"encoding": {"x": {"field": "x0", "type": "quantitative", "scale": {"domain": [0, 100]}, "axis": null}, "x2": {"field": "x1"},
"y": {"field": "b", "type": "quantitative", "scale": {"domain": [0, 4]}, "axis": null}, "y2": {"field": "top"},
"color": {"field": "t", "type": "nominal", "scale": {"domain": [0,1,2,3], "range": ["#b5391e","#3e801d","#eba231","#8ed3c2"]}, "legend": null}}},
{"data": {"name": "bexon"}, "transform": [{"filter": "datum.g == 3"}, {"flatten": ["s", "e"]}, {"calculate": "-0.18", "as": "ya"}, {"calculate": "-0.33", "as": "yb"}], "mark": {"type": "rect", "color": "#2b45e8"},
"encoding": {"x": {"field": "s", "type": "quantitative", "scale": {"domain": [0, 100]}, "axis": null}, "x2": {"field": "e"}, "y": {"field": "ya", "type": "quantitative", "scale": {"domain": [0, 4]}, "axis": null}, "y2": {"field": "yb"}}},
{"data": {"name": "barrow"}, "transform": [{"filter": "datum.g == 3"}, {"calculate": "-0.7", "as": "ya"}], "mark": {"type": "rule", "color": "black", "strokeWidth": 2.5},
"encoding": {"x": {"field": "s", "type": "quantitative", "scale": {"domain": [0, 100]}, "axis": null}, "x2": {"field": "e"}, "y": {"field": "ya", "type": "quantitative", "scale": {"domain": [0, 4]}, "axis": null}}},
{"data": {"name": "barrow"}, "transform": [{"filter": "datum.g == 3"}, {"calculate": "datum.d == 'r' ? datum.e : datum.s", "as": "tip"}, {"calculate": "-0.7", "as": "ya"}], "mark": {"type": "point", "filled": true, "color": "black", "size": 70, "opacity": 1},
"encoding": {"x": {"field": "tip", "type": "quantitative", "scale": {"domain": [0, 100]}, "axis": null}, "y": {"field": "ya", "type": "quantitative", "scale": {"domain": [0, 4]}, "axis": null},
"shape": {"field": "d", "type": "nominal", "scale": {"domain": ["r", "l"], "range": ["triangle-right", "triangle-left"]}, "legend": null}}}
]},
{"width": 112, "height": 110, "title": {"text": "0-2000", "fontSize": 17, "offset": 5},
"view": {"fill": "#fbfbfb", "stroke": "#a8b0b0", "strokeWidth": 1.2},
"layer": [
{"data": {"name": "tracks"}, "transform": [{"filter": "datum.t > 0"}], "mark": {"type": "rule", "color": "#cfcfcf", "strokeWidth": 1},
"encoding": {"y": {"field": "t", "type": "quantitative", "scale": {"domain": [0, 4]}, "axis": null}}},
{"data": {"name": "tracks"}, "transform": [{"filter": "datum.t == 0"}, {"calculate": "0.09", "as": "yl"}], "mark": {"type": "rule", "color": "#b5b5b5", "strokeWidth": 1}, "encoding": {"y": {"field": "yl", "type": "quantitative", "scale": {"domain": [0, 4]}, "axis": null}}},
{"data": {"name": "bhist"}, "transform": [{"filter": "datum.g == 4"}, {"flatten": ["x0", "x1", "p"]}, {"calculate": "3 - datum.t", "as": "b"}, {"calculate": "3 - datum.t + datum.p / 100", "as": "top"}],
"mark": {"type": "rect"},
"encoding": {"x": {"field": "x0", "type": "quantitative", "scale": {"domain": [0, 100]}, "axis": null}, "x2": {"field": "x1"},
"y": {"field": "b", "type": "quantitative", "scale": {"domain": [0, 4]}, "axis": null}, "y2": {"field": "top"},
"color": {"field": "t", "type": "nominal", "scale": {"domain": [0,1,2,3], "range": ["#b5391e","#3e801d","#eba231","#8ed3c2"]}, "legend": null}}},
{"data": {"name": "bintron"}, "transform": [{"filter": "datum.g == 4"}, {"flatten": ["s", "e"]}, {"calculate": "-0.255", "as": "yi"}], "mark": {"type": "rule", "color": "#2b45e8", "strokeWidth": 1},
"encoding": {"x": {"field": "s", "type": "quantitative", "scale": {"domain": [0, 100]}, "axis": null}, "x2": {"field": "e"}, "y": {"field": "yi", "type": "quantitative", "scale": {"domain": [0, 4]}, "axis": null}}},
{"data": {"name": "bexon"}, "transform": [{"filter": "datum.g == 4"}, {"flatten": ["s", "e"]}, {"calculate": "-0.18", "as": "ya"}, {"calculate": "-0.33", "as": "yb"}], "mark": {"type": "rect", "color": "#2b45e8"},
"encoding": {"x": {"field": "s", "type": "quantitative", "scale": {"domain": [0, 100]}, "axis": null}, "x2": {"field": "e"}, "y": {"field": "ya", "type": "quantitative", "scale": {"domain": [0, 4]}, "axis": null}, "y2": {"field": "yb"}}},
{"data": {"name": "barrow"}, "transform": [{"filter": "datum.g == 4"}, {"calculate": "-0.7", "as": "ya"}], "mark": {"type": "rule", "color": "black", "strokeWidth": 2.5},
"encoding": {"x": {"field": "s", "type": "quantitative", "scale": {"domain": [0, 100]}, "axis": null}, "x2": {"field": "e"}, "y": {"field": "ya", "type": "quantitative", "scale": {"domain": [0, 4]}, "axis": null}}},
{"data": {"name": "barrow"}, "transform": [{"filter": "datum.g == 4"}, {"calculate": "datum.d == 'r' ? datum.e : datum.s", "as": "tip"}, {"calculate": "-0.7", "as": "ya"}], "mark": {"type": "point", "filled": true, "color": "black", "size": 70, "opacity": 1},
"encoding": {"x": {"field": "tip", "type": "quantitative", "scale": {"domain": [0, 100]}, "axis": null}, "y": {"field": "ya", "type": "quantitative", "scale": {"domain": [0, 4]}, "axis": null},
"shape": {"field": "d", "type": "nominal", "scale": {"domain": ["r", "l"], "range": ["triangle-right", "triangle-left"]}, "legend": null}}}
]},
{"width": 112, "height": 110, "title": {"text": "0-15000", "fontSize": 17, "offset": 5},
"view": {"fill": "#fbfbfb", "stroke": "#a8b0b0", "strokeWidth": 1.2},
"layer": [
{"data": {"name": "tracks"}, "transform": [{"filter": "datum.t > 0"}], "mark": {"type": "rule", "color": "#cfcfcf", "strokeWidth": 1},
"encoding": {"y": {"field": "t", "type": "quantitative", "scale": {"domain": [0, 4]}, "axis": null}}},
{"data": {"name": "tracks"}, "transform": [{"filter": "datum.t == 0"}, {"calculate": "0.09", "as": "yl"}], "mark": {"type": "rule", "color": "#b5b5b5", "strokeWidth": 1}, "encoding": {"y": {"field": "yl", "type": "quantitative", "scale": {"domain": [0, 4]}, "axis": null}}},
{"data": {"name": "bhist"}, "transform": [{"filter": "datum.g == 5"}, {"flatten": ["x0", "x1", "p"]}, {"calculate": "3 - datum.t", "as": "b"}, {"calculate": "3 - datum.t + datum.p / 100", "as": "top"}],
"mark": {"type": "rect"},
"encoding": {"x": {"field": "x0", "type": "quantitative", "scale": {"domain": [0, 100]}, "axis": null}, "x2": {"field": "x1"},
"y": {"field": "b", "type": "quantitative", "scale": {"domain": [0, 4]}, "axis": null}, "y2": {"field": "top"},
"color": {"field": "t", "type": "nominal", "scale": {"domain": [0,1,2,3], "range": ["#b5391e","#3e801d","#eba231","#8ed3c2"]}, "legend": null}}},
{"data": {"name": "bintron"}, "transform": [{"filter": "datum.g == 5"}, {"flatten": ["s", "e"]}, {"calculate": "-0.255", "as": "yi"}], "mark": {"type": "rule", "color": "#2b45e8", "strokeWidth": 1},
"encoding": {"x": {"field": "s", "type": "quantitative", "scale": {"domain": [0, 100]}, "axis": null}, "x2": {"field": "e"}, "y": {"field": "yi", "type": "quantitative", "scale": {"domain": [0, 4]}, "axis": null}}},
{"data": {"name": "bexon"}, "transform": [{"filter": "datum.g == 5"}, {"flatten": ["s", "e"]}, {"calculate": "-0.18", "as": "ya"}, {"calculate": "-0.33", "as": "yb"}], "mark": {"type": "rect", "color": "#2b45e8"},
"encoding": {"x": {"field": "s", "type": "quantitative", "scale": {"domain": [0, 100]}, "axis": null}, "x2": {"field": "e"}, "y": {"field": "ya", "type": "quantitative", "scale": {"domain": [0, 4]}, "axis": null}, "y2": {"field": "yb"}}},
{"data": {"name": "barrow"}, "transform": [{"filter": "datum.g == 5"}, {"calculate": "-0.7", "as": "ya"}], "mark": {"type": "rule", "color": "black", "strokeWidth": 2.5},
"encoding": {"x": {"field": "s", "type": "quantitative", "scale": {"domain": [0, 100]}, "axis": null}, "x2": {"field": "e"}, "y": {"field": "ya", "type": "quantitative", "scale": {"domain": [0, 4]}, "axis": null}}},
{"data": {"name": "barrow"}, "transform": [{"filter": "datum.g == 5"}, {"calculate": "datum.d == 'r' ? datum.e : datum.s", "as": "tip"}, {"calculate": "-0.7", "as": "ya"}], "mark": {"type": "point", "filled": true, "color": "black", "size": 70, "opacity": 1},
"encoding": {"x": {"field": "tip", "type": "quantitative", "scale": {"domain": [0, 100]}, "axis": null}, "y": {"field": "ya", "type": "quantitative", "scale": {"domain": [0, 4]}, "axis": null},
"shape": {"field": "d", "type": "nominal", "scale": {"domain": ["r", "l"], "range": ["triangle-right", "triangle-left"]}, "legend": null}}}
]},
{"width": 50, "height": 110,
"data": {"name": "tracks"},
"layer": [
{"transform": [{"filter": "datum.k == 'WtXn'"}], "mark": {"type": "text", "align": "left", "fontSize": 17, "dx": -18, "dy": 3, "text": "WtX"},
"encoding": {"x": {"datum": 0, "type": "quantitative", "scale": {"domain": [0, 1]}, "axis": null}, "y": {"field": "t", "type": "ordinal", "axis": null}}},
{"transform": [{"filter": "datum.k == 'WtXn'"}], "mark": {"type": "text", "align": "left", "fontSize": 17, "fontStyle": "italic", "dx": 14.1, "dy": 3, "text": "n"},
"encoding": {"x": {"datum": 0, "type": "quantitative", "scale": {"domain": [0, 1]}, "axis": null}, "y": {"field": "t", "type": "ordinal", "axis": null}}},
{"transform": [{"filter": "datum.k == 'nXWt'"}], "mark": {"type": "text", "align": "left", "fontSize": 17, "fontStyle": "italic", "dx": -18, "dy": 3, "text": "n"},
"encoding": {"x": {"datum": 0, "type": "quantitative", "scale": {"domain": [0, 1]}, "axis": null}, "y": {"field": "t", "type": "ordinal", "axis": null}}},
{"transform": [{"filter": "datum.k == 'nXWt'"}], "mark": {"type": "text", "align": "left", "fontSize": 17, "dx": -8.55, "dy": 3, "text": "XWt"},
"encoding": {"x": {"datum": 0, "type": "quantitative", "scale": {"domain": [0, 1]}, "axis": null}, "y": {"field": "t", "type": "ordinal", "axis": null}}},
{"mark": {"type": "text", "align": "left", "fontSize": 17, "dx": 28.3, "dy": 3},
"encoding": {"x": {"datum": 0, "type": "quantitative", "scale": {"domain": [0, 1]}, "axis": null}, "y": {"field": "t", "type": "ordinal", "axis": null}, "text": {"field": "s"}}}
]}
]},
{"width": 656, "height": 36,
"layer": [
{"data": {"name": "genes"}, "transform": [{"filter": "datum.g == 1 || datum.g == 2 || datum.g == 5"}, {"calculate": "2.25", "as": "yy"}],
"mark": {"type": "text", "fontSize": 17.5, "fontStyle": "italic"},
"encoding": {"x": {"field": "g", "type": "quantitative", "scale": {"domain": [0.588, 5.412]}, "axis": null}, "y": {"field": "yy", "type": "quantitative", "scale": {"domain": [0, 3]}, "axis": null}, "text": {"field": "n"}}},
{"data": {"name": "genes"}, "transform": [{"filter": "datum.g == 3 || datum.g == 4"}, {"calculate": "2.25", "as": "yy"}],
"mark": {"type": "text", "fontSize": 17.5},
"encoding": {"x": {"field": "g", "type": "quantitative", "scale": {"domain": [0.588, 5.412]}, "axis": null}, "y": {"field": "yy", "type": "quantitative", "scale": {"domain": [0, 3]}, "axis": null}, "text": {"field": "n"}}},
{"data": {"name": "groups"}, "transform": [{"calculate": "datum.a - 0.44", "as": "lo"}, {"calculate": "datum.b + 0.44", "as": "hi"}, {"calculate": "1.5", "as": "yy"}],
"mark": {"type": "rule", "color": "black", "strokeWidth": 1.3},
"encoding": {"x": {"field": "lo", "type": "quantitative", "scale": {"domain": [0.588, 5.412]}, "axis": null}, "x2": {"field": "hi"}, "y": {"field": "yy", "type": "quantitative", "scale": {"domain": [0, 3]}, "axis": null}}},
{"data": {"name": "groups"}, "transform": [{"calculate": "(datum.a + datum.b) / 2", "as": "m"}, {"calculate": "0.5", "as": "yy"}],
"mark": {"type": "text", "fontSize": 17.5},
"encoding": {"x": {"field": "m", "type": "quantitative", "scale": {"domain": [0.588, 5.412]}, "axis": null}, "y": {"field": "yy", "type": "quantitative", "scale": {"domain": [0, 3]}, "axis": null}, "text": {"field": "n"}}}
]}
]
}
]
}
